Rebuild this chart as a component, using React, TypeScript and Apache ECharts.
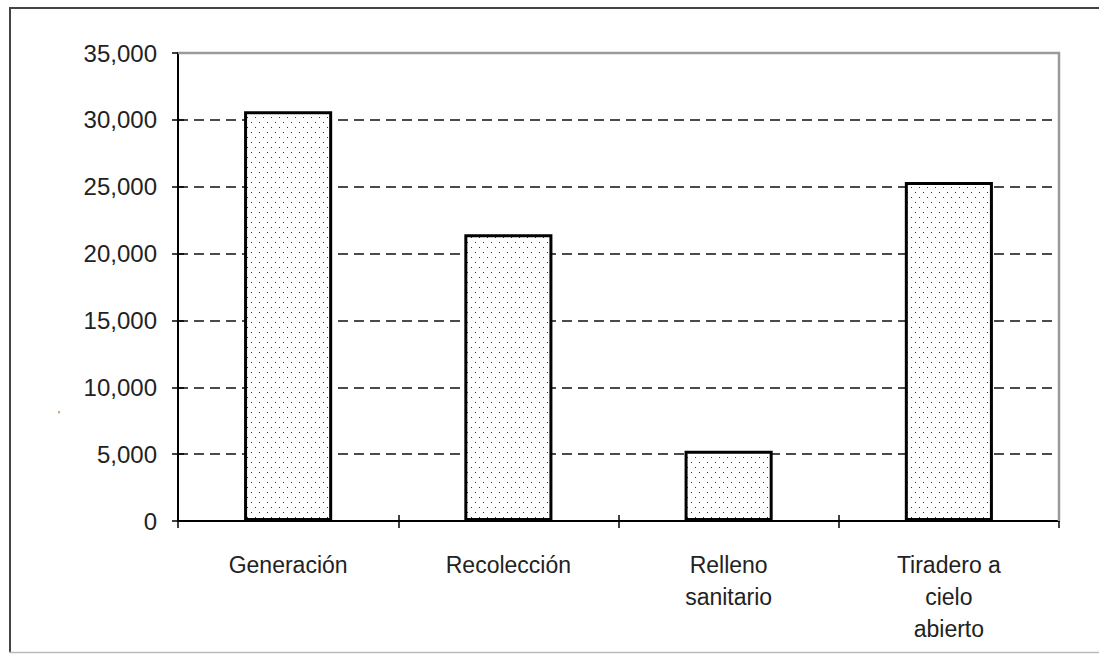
import React, { useEffect, useRef } from "react";
import * as echarts from "echarts";

const categories = ["Generación", "Recolección", "Relleno\nsanitario", "Tiradero a\ncielo\nabierto"];
const values = [30650, 21450, 5250, 25350];
const yMin = 0;
const yMax = 35000;
const yInterval = 5000;

const FONT = "'Liberation Sans', Arial, sans-serif";

function makePattern(): HTMLCanvasElement {
  const c = document.createElement("canvas");
  c.width = 8;
  c.height = 10;
  const ctx = c.getContext("2d")!;
  ctx.fillStyle = "#ffffff";
  ctx.fillRect(0, 0, 8, 10);
  ctx.fillStyle = "#333333";
  ctx.fillRect(3, 2, 1, 1);
  ctx.fillRect(7, 7, 1, 1);
  return c;
}

export default function App() {
  const ref = useRef<HTMLDivElement>(null);
  useEffect(() => {
    document.body.style.margin = "0";
    const chart = echarts.init(ref.current!, null, { renderer: "svg" });
    const pattern = makePattern();
    const fmt = (v: number) => v.toLocaleString("en-US");
    chart.setOption({
      animation: false,
      backgroundColor: "#ffffff",
      grid: {
        left: 178,
        top: 53,
        right: 40,
        bottom: 133,
        show: false,
      },
      xAxis: [
        {
          type: "category",
          data: categories,
          boundaryGap: true,
          axisLine: { show: true, lineStyle: { color: "#000", width: 2 } },
          axisTick: { show: true, length: 7, alignWithLabel: false, lineStyle: { color: "#000", width: 1.5 } },
          axisLabel: {
            fontFamily: FONT,
            fontSize: 23,
            color: "#222",
            margin: 28,
            lineHeight: 32,
            align: "center",
            interval: 0,
          },
          splitLine: { show: false },
        },
        {
          type: "category",
          data: categories,
          position: "bottom",
          boundaryGap: true,
          axisLine: { show: false },
          axisTick: { show: true, inside: true, length: 6, alignWithLabel: false, lineStyle: { color: "#000", width: 1.5 } },
          axisLabel: { show: false },
          splitLine: { show: false },
        },
      ],
      yAxis: [
        {
          type: "value",
          min: yMin,
          max: yMax,
          interval: yInterval,
          axisLine: { show: true, lineStyle: { color: "#000", width: 2 } },
          axisTick: { show: true, length: 6, lineStyle: { color: "#000", width: 1.5 } },
          axisLabel: {
            fontFamily: FONT,
            fontSize: 24,
            color: "#222",
            margin: 21,
            formatter: fmt,
          },
          splitLine: { show: true, lineStyle: { color: "#111", width: 1.5, type: [10, 6] } },
        },
        {
          type: "value",
          min: yMin,
          max: yMax,
          interval: yInterval,
          position: "left",
          axisLine: { show: false },
          axisTick: { show: true, inside: true, length: 6, lineStyle: { color: "#000", width: 1.5 } },
          axisLabel: { show: false },
          splitLine: { show: false },
        },
      ],
      series: [
        {
          type: "bar",
          data: values,
          barWidth: "40%",
          xAxisIndex: 0,
          yAxisIndex: 0,
          itemStyle: {
            color: { image: pattern, repeat: "repeat" },
            borderColor: "#000",
            borderWidth: 3,
          },
        },
      ],
      graphic: [
        { type: "line", z: 100, shape: { x1: 178, y1: 53, x2: 1060, y2: 53 }, style: { stroke: "#9a9a9a", lineWidth: 2.5 } },
        { type: "line", z: 100, shape: { x1: 1059, y1: 52, x2: 1059, y2: 521 }, style: { stroke: "#9a9a9a", lineWidth: 2.5 } },
        { type: "line", shape: { x1: 9, y1: 8, x2: 1099, y2: 8 }, style: { stroke: "#444", lineWidth: 2 } },
        { type: "line", shape: { x1: 10, y1: 7, x2: 10, y2: 653 }, style: { stroke: "#444", lineWidth: 2 } },
        { type: "line", shape: { x1: 9, y1: 652.5, x2: 1099, y2: 652.5 }, style: { stroke: "#bbb", lineWidth: 1.5 } },
        { type: "text", x: 58, y: 410, style: { text: "'", fontSize: 10, fill: "#444", fontFamily: FONT } },
      ],
    });
    return () => chart.dispose();
  }, []);
  return <div ref={ref} style={{ width: 1099, height: 654 }} />;
}
